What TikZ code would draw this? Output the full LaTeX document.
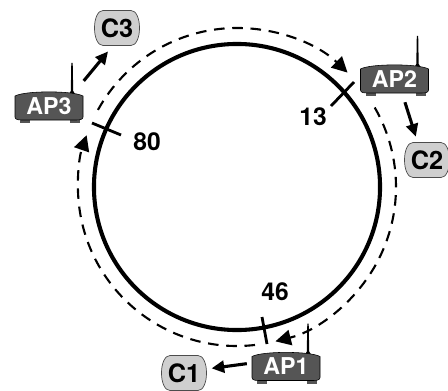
\documentclass[tikz,border=0pt]{standalone}
\usepackage{fontspec}
\setmainfont{TeX Gyre Heros}
\usetikzlibrary{arrows.meta,calc}
\definecolor{apgray}{HTML}{555555}
\definecolor{clientgray}{HTML}{CFCFCF}
\tikzset{
    apbox/.style={inner sep=0pt, minimum width=1.7cm, minimum height=0.7cm, text=white, font=\fontsize{16.5}{16.5}\selectfont\bfseries},
    clientbox/.style={inner sep=0pt, minimum width=1.12cm, minimum height=0.86cm, font=\fontsize{18}{18}\selectfont\bfseries},
    idlabel/.style={font=\fontsize{17.5}{17.5}\selectfont\bfseries},
    ringarc/.style={line width=1.5pt, dash pattern=on 7.5pt off 5.5pt, -{Triangle[length=11pt,width=11pt]}},
    toclient/.style={line width=2.2pt, -{Triangle[length=9pt,width=8.5pt]}},
    tick/.style={line width=2pt}
}
\begin{document}
\begin{tikzpicture}[x=0.025cm, y=0.025cm]
    \useasboundingbox (0,0) rectangle (448,390);
    \coordinate (ctr) at (237,203);

    % Ring
    \draw [line width=2.9pt] (ctr) circle (3.575cm);

    % Dashed arcs
    \draw [ringarc] ($(ctr)+(151:159)$) arc[start angle=151, end angle=46, radius=3.975cm];
    \draw [ringarc] ($(ctr)+(30:159)$) arc[start angle=30, end angle=-76, radius=3.975cm];
    \draw [ringarc] ($(ctr)+(-83.5:159)$) arc[start angle=-83.5, end angle=-199, radius=3.975cm];

    % Access points
    \foreach \name/\label/\x/\y/\ant in {
        ap3/AP3/49/284/23, ap2/AP2/394.5/311/23, ap1/AP1/286/23.5/22} {
        \begin{scope}[shift={(\x,\y)}]
            \fill [black] (\ant-1.2,15) -- (\ant-0.7,43) -- (\ant+0.7,43) -- (\ant+1.2,15) -- (\ant+3,12) -- (\ant-3,12) -- cycle;
            \fill [apgray] (-29,-17) rectangle (-19,-13);
            \fill [apgray] (21,-17) rectangle (31,-13);
            \draw [black, line width=0.4pt, fill=apgray] (-34,10) .. controls (-24,15.5) and (24,15.5) .. (34,10)
                -- (34,-11) .. controls (34,-14) and (30,-14) .. (26,-14)
                -- (-26,-14) .. controls (-30,-14) and (-34,-14) .. (-34,-11) -- cycle;
        \end{scope}
        \node [apbox] (\name) at (\x,\y) {\label};
    }

    % Clients
    \foreach \name/\label/\x/\y in {c3/C3/117/362, c2/C2/427/230, c1/C1/184/17} {
        \begin{scope}[shift={(\x,\y)}]
            \draw [black!70, line width=0.5pt, fill=clientgray] (-14,17.5) -- (14,17.5)
                .. controls (19,17.5) and (22.5,10) .. (22.5,0) .. controls (22.5,-10) and (19,-17.5) .. (14,-17.5)
                -- (-14,-17.5)
                .. controls (-19,-17.5) and (-22.5,-10) .. (-22.5,0) .. controls (-22.5,10) and (-19,17.5) .. (-14,17.5) -- cycle;
        \end{scope}
        \node [clientbox] (\name) at (\x,\y) {\label};
    }

    \draw [toclient, shorten <=10pt, shorten >=5.5pt] (ap3.29) -- (c3.257);
    \draw [toclient, shorten <=6.7pt, shorten >=4.4pt] (ap2.-62) -- (c2.118);
    \draw [toclient, shorten >=3.5pt, shorten <=3.5pt] (ap1.west |- 0,27) -- (c1.east |- 0,21);

    % Ticks
    \coordinate (t3a) at (92,267); \coordinate (t3b) at (121,255);
    \coordinate (t2a) at (354,308); \coordinate (t2b) at (331,284);
    \coordinate (t1a) at (262,73); \coordinate (t1b) at (267,46);
    \draw [tick] (t3a) -- (t3b);
    \draw [tick] (t2a) -- (t2b);
    \draw [tick] (t1a) -- (t1b);

    \node [idlabel] (id80) at (147,248) {80};
    \node [idlabel] (id13) at (313,273) {13};
    \node [idlabel] (id46) at (275,98) {46};
\end{tikzpicture}
\end{document}
